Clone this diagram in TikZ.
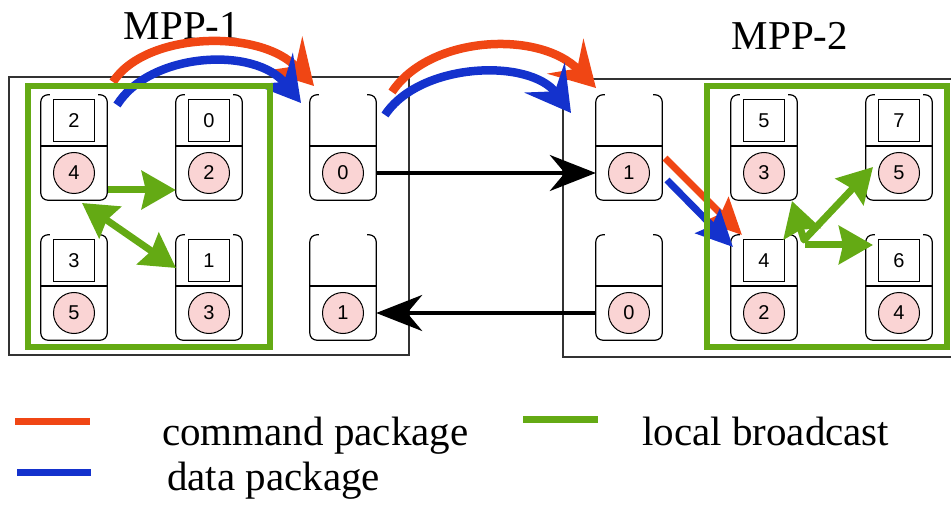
\documentclass[tikz,border=0pt]{standalone}
\usepackage{fontspec}
\setmainfont{Liberation Serif}
\newfontfamily\digitfont{Liberation Sans}
\usetikzlibrary{arrows.meta}
\definecolor{cmdred}{RGB}{240,70,20}
\definecolor{datablue}{RGB}{20,50,205}
\definecolor{bgreen}{RGB}{100,170,20}
\definecolor{cpink}{RGB}{250,212,212}
\definecolor{boxgray}{RGB}{50,50,50}
\tikzset{
  outerbox/.style={draw=boxgray,line width=1.5pt},
  greenbox/.style={draw=bgreen,line width=6pt},
  slotbox/.style={draw=none,minimum width=66pt,minimum height=105pt,inner sep=0pt},
  slotline/.style={line width=1.2pt,rounded corners=7pt},
  numsq/.style={draw,line width=1.2pt,minimum width=41pt,minimum height=42pt,inner sep=0pt,font=\digitfont\fontsize{20}{20}\selectfont},
  numcirc/.style={circle,draw,fill=cpink,line width=1pt,minimum size=41pt,inner sep=0pt,font=\digitfont\fontsize{20}{20}\selectfont},
  bigtext/.style={inner sep=0pt,font=\fontsize{41}{41}\selectfont},
  cmdarrow/.style={draw=cmdred,line width=8.5pt,-{Stealth[length=44pt,width=50pt,inset=17pt]}},
  dataarrow/.style={draw=datablue,line width=8.5pt,-{Stealth[length=44pt,width=50pt,inset=17pt]}},
  cmddiag/.style={draw=cmdred,line width=7pt,-{Stealth[length=36pt,width=34pt,inset=6pt]}},
  datadiag/.style={draw=datablue,line width=7pt,-{Stealth[length=36pt,width=34pt,inset=6pt]}},
  blackarrow/.style={draw=black,line width=4pt,-{Stealth[length=46pt,width=36pt,inset=15pt]}},
  bcast/.style={draw=bgreen,line width=7pt,-{Stealth[length=34pt,width=38pt,inset=4pt]}},
  bcastboth/.style={draw=bgreen,line width=7pt,line join=round,{Stealth[length=34pt,width=38pt,inset=4pt]}-{Stealth[length=34pt,width=38pt,inset=4pt]}},
  legline/.style={line width=7pt},
}
\newcommand\mkslot[5]{%
  \node[slotbox] (#1) at (#2+33,#3+52.5) {};
  \draw[slotline] ([xshift=9pt]#1.north west) -- (#1.north west) -- (#1.south west) -- (#1.south east) -- (#1.north east) -- ([xshift=-9pt]#1.north east);
  \draw[line width=1.2pt] ([yshift=1.5pt]#1.west) -- ([yshift=1.5pt]#1.east);
  \node[numcirc] (#1c) at (#2+33,#3+78) {#5};
  \if\relax\detokenize{#4}\relax\else\node[numsq] (#1q) at (#2+33,#3+25.5) {#4};\fi
}
\begin{document}
\begin{tikzpicture}[x=1pt,y=-1pt]
\useasboundingbox (0,0) rectangle (951,505);
% outer boxes
\draw[outerbox] (9,77) rectangle (409,355);
\draw[outerbox] (951,79) -- (563,79) -- (563,357) -- (951,357);
% titles
\node[bigtext,anchor=base] (mpp1) at (182,40) {MPP-1};
\node[bigtext,anchor=base] (mpp2) at (790,50) {MPP-2};
% slots, left
\mkslot{L1}{41}{95}{2}{4}
\mkslot{L2}{176}{95}{0}{2}
\mkslot{L3}{41}{235}{3}{5}
\mkslot{L4}{176}{235}{1}{3}
\mkslot{L5}{310}{95}{}{0}
\mkslot{L6}{310}{235}{}{1}
% slots, right
\mkslot{R1}{596}{95}{}{1}
\mkslot{R2}{596}{235}{}{0}
\mkslot{R3}{731}{95}{5}{3}
\mkslot{R4}{866}{95}{7}{5}
\mkslot{R5}{731}{235}{4}{2}
\mkslot{R6}{866}{235}{6}{4}
% black links
\draw[blackarrow] (L5.east |- L5c.center) -- (R1.west |- R1c.center);
\draw[blackarrow] (R2.west |- R2c.center) -- (L6.east |- L6c.center);
% command / data arcs
\coordinate (r1s) at (113,82);  \coordinate (r1e) at (314,86);
\coordinate (b1s) at (117,105); \coordinate (b1e) at (301,103);
\coordinate (r2s) at (392,92);  \coordinate (r2e) at (596,88);
\coordinate (b2s) at (385,115); \coordinate (b2e) at (571,113);
\draw[cmdarrow] (r1s) .. controls (145,32) and (260,28) .. (r1e);
\draw[dataarrow] (b1s) .. controls (150,52) and (255,46) .. (b1e);
\draw[cmdarrow] (r2s) .. controls (430,35) and (540,30) .. (r2e);
\draw[dataarrow] (b2s) .. controls (420,62) and (530,58) .. (b2e);
% diagonal command / data into MPP-2 group
\coordinate (r3s) at (665,158); \coordinate (r3e) at (742,235);
\coordinate (b3s) at (667,180); \coordinate (b3e) at (733,247);
\draw[cmddiag] (r3s) -- (r3e);
\draw[datadiag] (b3s) -- (b3e);
% green group frames
\draw[greenbox] (28,86) rectangle (270,347);
\draw[greenbox] (707,86) rectangle (947,347);
% local broadcasts, left
\coordinate (g1s) at (108,190);
\draw[bcast] (g1s) -- (L2.west |- g1s);
\coordinate (g2s) at (82,203); \coordinate (g2e) at (176,268);
\draw[bcastboth] (g2s) -- (g2e);
% local broadcasts, right
\coordinate (g3s) at (805,245); \coordinate (g3e) at (873,245);
\draw[bcast] (g3s) -- (g3e);
\coordinate (g4s) at (792,201); \coordinate (g4m) at (804,240); \coordinate (g4e) at (873,167);
\draw[bcastboth] (g4s) -- (g4m) -- (g4e);
% legend
\draw[legline,draw=cmdred] (15,421) -- (90,421);
\draw[legline,draw=datablue] (17,472) -- (91,472);
\draw[legline,draw=bgreen] (523,419) -- (598,419);
\node[bigtext,anchor=base west] (lcmd) at (162,445) {command package};
\node[bigtext,anchor=base west] (ldata) at (167,490) {data package};
\node[bigtext,anchor=base west] (lbc) at (642,445) {local broadcast};
\end{tikzpicture}
\end{document}
